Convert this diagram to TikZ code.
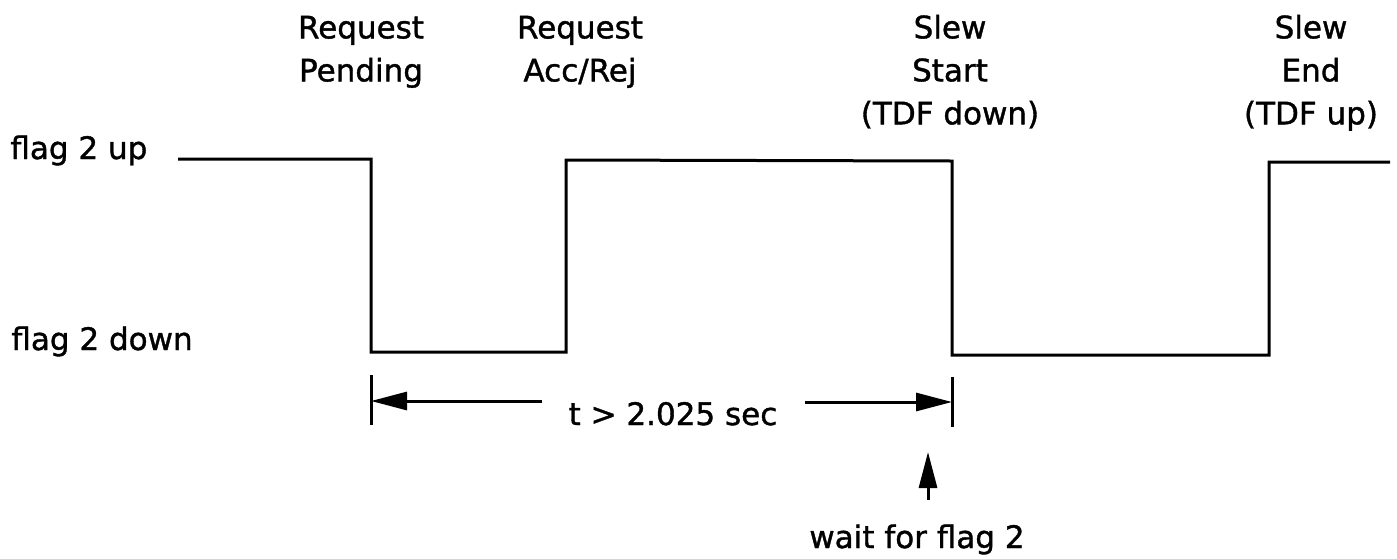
\documentclass[tikz,border=0pt]{standalone}
\usepackage{fontspec}
\setmainfont[FakeBold=1.2]{DejaVu Sans}
\usetikzlibrary{arrows.meta}
\begin{document}
\begin{tikzpicture}[x=0.5pt,y=-0.5pt,
  sig/.style={line width=1.5pt},
  lbl/.style={font=\fontsize{15.5}{21.5}\selectfont, inner sep=0pt, align=center},
  tipline/.style={-{Triangle[length=18pt,width=9pt]}, line width=1.5pt}]
\useasboundingbox (0,0) rectangle (1397,558);
% labels
\node[lbl,anchor=base west] (up) at (10,159) {flag 2 up};
\node[lbl,anchor=base west] (down) at (11,350) {flag 2 down};
\node[lbl,anchor=north] (pend) at (361,15.4) {Request\\Pending};
\node[lbl,anchor=north] (acc) at (580,15.4) {Request\\Acc/Rej};
\node[lbl,anchor=north] (sst) at (950,14.4) {Slew\\Start\\(TDF down)};
\node[lbl,anchor=north] (sen) at (1311,14.4) {Slew\\End\\(TDF up)};
\node[lbl,anchor=base] (dim) at (673,425) {t > 2.025 sec};
\node[lbl,anchor=base] (wait) at (917,548) {wait for flag 2};
% waveform
\coordinate (s0) at (178,159);
\coordinate (s1) at (371,159);
\coordinate (s2) at (371,352);
\coordinate (s3) at (566,352);
\coordinate (s4) at (566,160);
\coordinate (s5) at (952,161);
\coordinate (s6) at (952,355);
\coordinate (s7) at (1269,355);
\coordinate (s8) at (1269,162);
\coordinate (s9) at (1390,162);
\draw[sig] (s0) -- (s1) -- (s2) -- (s3) -- (s4) -- (s5) -- (s6) -- (s7) -- (s8) -- (s9);
% dimension ticks
\coordinate (t1a) at (371,375);
\coordinate (t1b) at (371,425);
\coordinate (t2a) at (952,377);
\coordinate (t2b) at (952,427);
\draw[sig] (t1a) -- (t1b);
\draw[sig] (t2a) -- (t2b);
% dimension arrows
\coordinate (l0) at (542,401);
\coordinate (l1) at (371,401);
\coordinate (r0) at (805,402);
\coordinate (r1) at (952,402);
\draw[tipline] (l0) -- (l1);
\draw[tipline] (r0) -- (r1);
% wait arrow
\coordinate (w0) at (928,500);
\coordinate (w1) at (928,452);
\draw[tipline] (w0) -- (w1);
\end{tikzpicture}
\end{document}
